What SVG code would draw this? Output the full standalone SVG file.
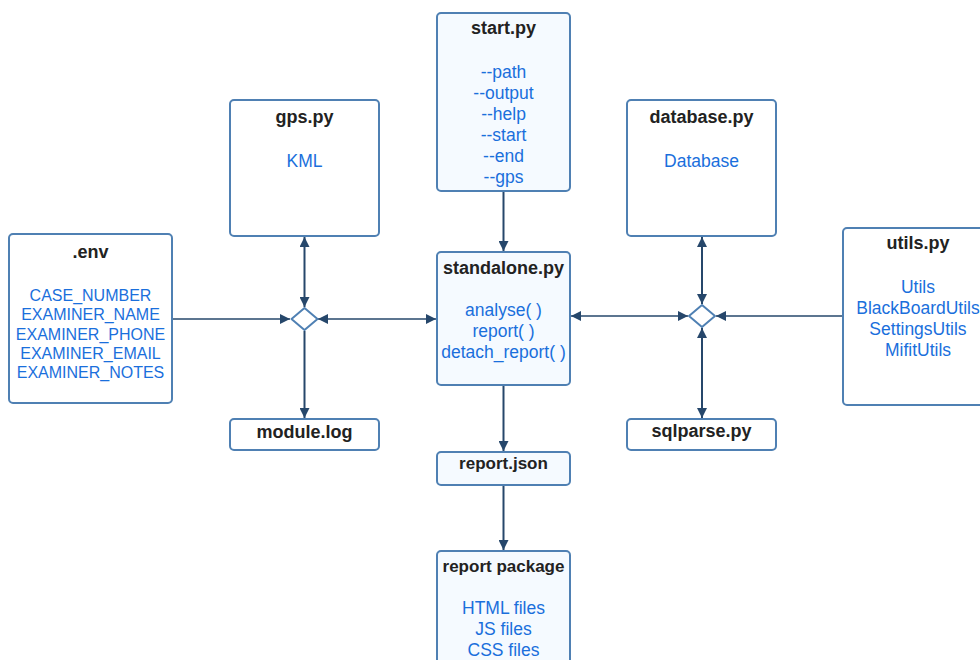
<svg xmlns="http://www.w3.org/2000/svg" width="980" height="660" viewBox="0 0 980 660">
<defs>
<marker id="arr" viewBox="0 0 10 10" refX="10" refY="5" markerWidth="10" markerHeight="10" markerUnits="userSpaceOnUse" orient="auto-start-reverse">
<path d="M0,0 L10,5 L0,10 z" fill="#26476b"/>
</marker>
<style>
.box{fill:#ffffff;stroke:#4f80b3;stroke-width:2}
.lb{fill:#f5faff;stroke:#4f80b3;stroke-width:2}
.dia{fill:#ffffff;stroke:#4f80b3;stroke-width:2}
.t{font-family:"Liberation Sans",Arial,sans-serif;font-weight:bold;font-size:18px;fill:#222;text-anchor:middle}
.b{font-family:"Liberation Sans",Arial,sans-serif;font-size:17.5px;fill:#1a6fdc;text-anchor:middle}
.s{font-family:"Liberation Sans",Arial,sans-serif;font-size:16px;fill:#1a6fdc;text-anchor:middle}
.c{stroke:#26476b;stroke-width:2;fill:none}
.ch{stroke:#26476b;stroke-width:1.5;fill:none}
</style>
</defs>
<rect width="980" height="660" fill="#ffffff"/>
<g id="connectors">
<line class="c" x1="503.5" y1="191" x2="503.5" y2="251" marker-end="url(#arr)"/>
<line class="c" x1="503.5" y1="385" x2="503.5" y2="451" marker-end="url(#arr)"/>
<line class="c" x1="503.5" y1="485" x2="503.5" y2="550" marker-end="url(#arr)"/>
<line class="ch" x1="172" y1="319" x2="290" y2="319" marker-end="url(#arr)"/>
<line class="ch" x1="318" y1="319" x2="436" y2="319" marker-start="url(#arr)" marker-end="url(#arr)"/>
<line class="c" x1="304.5" y1="237" x2="304.5" y2="307" marker-start="url(#arr)" marker-end="url(#arr)"/>
<line class="c" x1="304.5" y1="331" x2="304.5" y2="418" marker-end="url(#arr)"/>
<line class="ch" x1="571" y1="316" x2="688" y2="316" marker-start="url(#arr)" marker-end="url(#arr)"/>
<line class="c" x1="702" y1="237" x2="702" y2="304" marker-start="url(#arr)" marker-end="url(#arr)"/>
<line class="c" x1="702" y1="328" x2="702" y2="418" marker-start="url(#arr)" marker-end="url(#arr)"/>
<line class="ch" x1="843" y1="316" x2="716" y2="316" marker-end="url(#arr)"/>
</g>
<g id="start">
<rect class="lb" x="437" y="13" width="133" height="178" rx="4"/>
<text class="t" x="503.5" y="34">start.py</text>
<text class="b" x="503.5" y="78">--path</text>
<text class="b" x="503.5" y="99">--output</text>
<text class="b" x="503.5" y="120">--help</text>
<text class="b" x="503.5" y="141">--start</text>
<text class="b" x="503.5" y="162">--end</text>
<text class="b" x="503.5" y="183">--gps</text>
</g>
<g id="gps">
<rect class="box" x="230" y="100" width="149" height="136" rx="4"/>
<text class="t" x="304.5" y="123">gps.py</text>
<text class="b" x="304.5" y="167">KML</text>
</g>
<g id="database">
<rect class="box" x="627" y="100" width="149" height="136" rx="4"/>
<text class="t" x="701.5" y="123">database.py</text>
<text class="b" x="701.5" y="167">Database</text>
</g>
<g id="env">
<rect class="box" x="9" y="234" width="163" height="169" rx="4"/>
<text class="t" x="90.5" y="258">.env</text>
<text class="s" x="90.5" y="301">CASE_NUMBER</text>
<text class="s" x="90.5" y="320.3">EXAMINER_NAME</text>
<text class="s" x="90.5" y="339.6">EXAMINER_PHONE</text>
<text class="s" x="90.5" y="358.9">EXAMINER_EMAIL</text>
<text class="s" x="90.5" y="378.2">EXAMINER_NOTES</text>
</g>
<g id="standalone">
<rect class="lb" x="437" y="252" width="133" height="133" rx="4"/>
<text class="t" x="503.5" y="274">standalone.py</text>
<text class="b" x="503.5" y="316">analyse( )</text>
<text class="b" x="503.5" y="337">report( )</text>
<text class="b" x="503.5" y="358">detach_report( )</text>
</g>
<g id="utils">
<rect class="box" x="843" y="228" width="150" height="177" rx="4"/>
<text class="t" x="918" y="249">utils.py</text>
<text class="b" x="918" y="293">Utils</text>
<text class="b" x="918" y="314">BlackBoardUtils</text>
<text class="b" x="918" y="335">SettingsUtils</text>
<text class="b" x="918" y="356">MifitUtils</text>
</g>
<g id="modulelog">
<rect class="box" x="230" y="419" width="149" height="31" rx="4"/>
<text class="t" x="304.5" y="438">module.log</text>
</g>
<g id="sqlparse">
<rect class="box" x="627" y="419" width="149" height="31" rx="4"/>
<text class="t" x="701.5" y="437">sqlparse.py</text>
</g>
<g id="reportjson">
<rect class="lb" x="437" y="452" width="133" height="33" rx="4"/>
<text class="t" x="503.5" y="469" style="font-size:17px">report.json</text>
</g>
<g id="reportpackage">
<rect class="lb" x="437" y="551" width="133" height="120" rx="4"/>
<text class="t" x="503.5" y="572" style="font-size:17px">report package</text>
<text class="b" x="503.5" y="614">HTML files</text>
<text class="b" x="503.5" y="635">JS files</text>
<text class="b" x="503.5" y="656">CSS files</text>
</g>
<g id="diamondLeft">
<path class="dia" d="M304.5,308 L317.5,319 L304.5,330 L291.5,319 Z" stroke-linejoin="round"/>
</g>
<g id="diamondRight">
<path class="dia" d="M702,305 L715,316 L702,327 L689,316 Z" stroke-linejoin="round"/>
</g>
</svg>
